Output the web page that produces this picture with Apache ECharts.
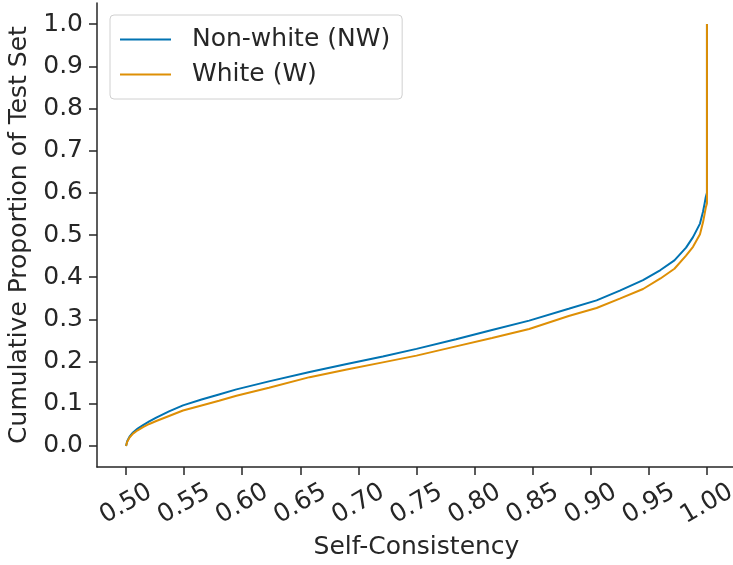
<!DOCTYPE html>
<html>
<head>
<meta charset="utf-8">
<script src="https://cdn.jsdelivr.net/npm/echarts@6/dist/echarts.min.js"></script>
<style>html,body{margin:0;padding:0;background:#fff}#c{width:733px;height:565px}</style>
</head>
<body>
<div id="c"></div>
<script>
// Self-consistency values (x) and cumulative proportions (y)
const xNW = [0.500,0.501,0.503,0.506,0.510,0.515,0.520,0.526,0.537,0.549,0.565,0.580,0.595,0.623,0.658,0.690,0.721,0.750,0.784,0.815,0.847,0.881,0.905,0.925,0.945,0.960,0.972,0.982,0.988,0.994,0.9966,0.998,0.999,1.000,1.000];
const yNW = [0.000,0.011,0.022,0.032,0.041,0.050,0.058,0.067,0.082,0.096,0.110,0.122,0.134,0.153,0.175,0.194,0.212,0.230,0.253,0.275,0.297,0.325,0.345,0.368,0.393,0.417,0.440,0.470,0.495,0.527,0.555,0.575,0.590,0.600,1.000];
const xW  = [0.500,0.501,0.503,0.506,0.510,0.515,0.520,0.526,0.537,0.549,0.565,0.580,0.595,0.623,0.658,0.690,0.721,0.750,0.784,0.815,0.847,0.881,0.905,0.925,0.945,0.960,0.972,0.982,0.988,0.994,0.9966,0.998,0.999,1.000,1.000];
const yW  = [0.000,0.010,0.020,0.029,0.037,0.045,0.052,0.059,0.071,0.084,0.096,0.107,0.119,0.138,0.163,0.181,0.198,0.214,0.236,0.256,0.277,0.308,0.327,0.349,0.372,0.397,0.420,0.451,0.472,0.502,0.530,0.550,0.565,0.575,1.000];
const xTicks = [0.50,0.55,0.60,0.65,0.70,0.75,0.80,0.85,0.90,0.95,1.00];
const yTicks = [0.0,0.1,0.2,0.3,0.4,0.5,0.6,0.7,0.8,0.9,1.0];
const seriesNames = ['Non-white (NW)','White (W)'];

const FONT = 'DejaVu Sans';
const TXT = '#262626';
const chart = echarts.init(document.getElementById('c'), null, {renderer:'canvas'});
const zip = (xs, ys) => xs.map((x,i)=>[x, ys[i]]);
chart.setOption({
  animation: false,
  backgroundColor: '#ffffff',
  textStyle: {fontFamily: FONT, color: TXT},
  grid: {left: 97, top: 3, width: 639, height: 464, containLabel: false, outerBoundsMode: 'none'},
  legend: {
    left: 110, top: 15, orient: 'vertical',
    padding: [12, 12, 12, 10],
    icon: 'rect',
    itemWidth: 51, itemHeight: 2, itemGap: 10,
    borderColor: '#d0d0d0', borderWidth: 1, borderRadius: 4,
    backgroundColor: 'rgba(255,255,255,0.85)',
    textStyle: {fontFamily: FONT, fontSize: 25, color: TXT, padding: [0,0,0,16], lineHeight: 25},
    data: seriesNames
  },
  xAxis: {
    type: 'value', min: 0.475, max: 1.025,
    name: 'Self-Consistency', nameLocation: 'middle', nameGap: 68,
    nameTextStyle: {fontFamily: FONT, fontSize: 25, color: TXT},
    axisLine: {show: true, onZero: false, lineStyle: {color: TXT, width: 1.5}},
    axisTick: {show: true, length: 8, lineStyle: {color: TXT, width: 1.5}, customValues: xTicks},
    axisLabel: {show: true, customValues: xTicks, rotate: 30, align: 'center', verticalAlign: 'middle',
      margin: 37, fontFamily: FONT, fontSize: 25, color: TXT, formatter: v => v.toFixed(2)},
    splitLine: {show: false}
  },
  yAxis: {
    type: 'value', min: -0.05, max: 1.05,
    name: 'Cumulative Proportion of Test Set', nameLocation: 'middle', nameGap: 58,
    nameTextStyle: {fontFamily: FONT, fontSize: 25, color: TXT},
    axisLine: {show: true, onZero: false, lineStyle: {color: TXT, width: 1.5}},
    axisTick: {show: true, length: 8, lineStyle: {color: TXT, width: 1.5}, customValues: yTicks},
    axisLabel: {show: true, customValues: yTicks, margin: 14, fontFamily: FONT, fontSize: 25, color: TXT,
      formatter: v => v.toFixed(1)},
    splitLine: {show: false}
  },
  series: [
    {name: seriesNames[0], type: 'line', data: zip(xNW, yNW), symbol: 'none',
     lineStyle: {color: '#0173b2', width: 2}, itemStyle: {color: '#0173b2'}},
    {name: seriesNames[1], type: 'line', data: zip(xW, yW), symbol: 'none',
     lineStyle: {color: '#de8f05', width: 2}, itemStyle: {color: '#de8f05'}}
  ]
});
</script>
</body>
</html>
